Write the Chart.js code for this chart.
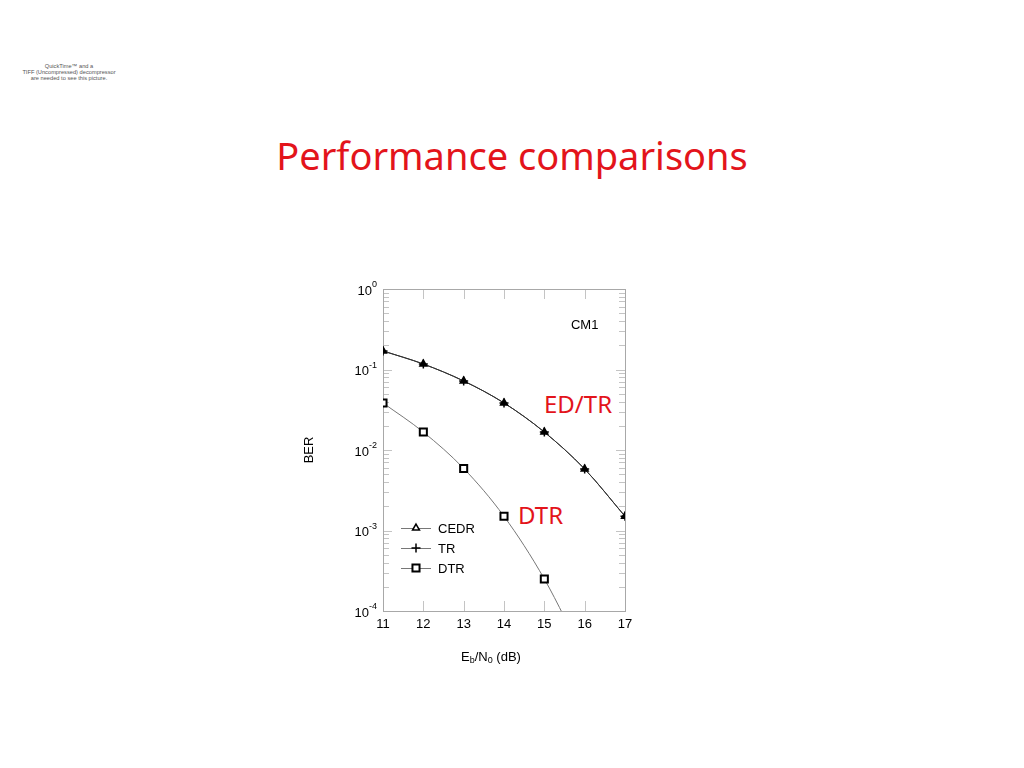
<!DOCTYPE html>
<html>
<head>
<meta charset="utf-8">
<script src="https://cdn.jsdelivr.net/npm/chart.js@4.4.1/dist/chart.umd.min.js"></script>
<style>
  html, body { margin: 0; padding: 0; background: #fff; }
  body { width: 1024px; height: 768px; position: relative; overflow: hidden; }
  #chart { position: absolute; left: 0; top: 0; }
  .qt { position: absolute; left: 19px; top: 63px; width: 100px; text-align: center;
        font: 5.7px/6px "Liberation Sans", Arial, sans-serif; color: #555; }
  .title { position: absolute; left: 0; width: 1024px; top: 129px; text-align: center;
           font: 38px "Comic Sans MS", "Noto Sans", sans-serif; color: #e3141b; }
  .note { position: absolute; font: 24px "Comic Sans MS", "Noto Sans", sans-serif; color: #e3141b; }
</style>
</head>
<body>
<div class="qt">QuickTime™ and a<br>TIFF (Uncompressed) decompressor<br>are needed to see this picture.</div>
<div class="title">Performance comparisons</div>
<div class="note" style="left:544px; top:387px;">ED/TR</div>
<div class="note" style="left:518px; top:498px;">DTR</div>
<canvas id="chart" width="1024" height="768"></canvas>
<script>
// Eb/N0 (dB) and BER
const ebn0 = [11, 12, 13, 14, 15, 16, 17];
const cedrBer = [0.17, 0.117, 0.072, 0.0384, 0.0167, 0.0058, 0.0015];
const trBer = [0.17, 0.117, 0.072, 0.0384, 0.0167, 0.0058, 0.0015];
const dtrBer = [0.0384, 0.0167, 0.0059, 0.0015, 0.00025, 0.000026];

const xTicks = [11, 12, 13, 14, 15, 16, 17];
const yDecades = [-4, -3, -2, -1, 0];
const legendNames = ['CEDR', 'TR', 'DTR'];

const pts = (ys) => ys.map((y, i) => ({ x: ebn0[i], y: y }));

// frame, ticks and tick labels drawn from the scales
const axesPlugin = {
    id: 'axesFrame',
    beforeDatasetsDraw(chart) {
        const { ctx, chartArea: a, scales } = chart;
        const x = scales.x, y = scales.y;
        ctx.save();
        ctx.strokeStyle = '#c4c4c4';
        ctx.lineWidth = 1;
        ctx.beginPath();
        xTicks.slice(1, -1).forEach(t => {
            const px = Math.round(x.getPixelForValue(t)) + 0.5;
            ctx.moveTo(px, a.bottom); ctx.lineTo(px, a.bottom - 10);
            ctx.moveTo(px, a.top); ctx.lineTo(px, a.top + 10);
        });
        yDecades.forEach(d => {
            for (let k = 1; k <= 9; k++) {
                const v = k * Math.pow(10, d);
                if (v > 1 || v < 1e-4) continue;
                const py = Math.round(y.getPixelForValue(v)) + 0.5;
                const len = k === 1 ? 9 : 6;
                ctx.moveTo(a.left, py); ctx.lineTo(a.left + len, py);
                ctx.moveTo(a.right, py); ctx.lineTo(a.right - len, py);
            }
        });
        ctx.stroke();
        ctx.strokeStyle = '#a8a8a8';
        ctx.strokeRect(Math.round(a.left) + 0.5, Math.round(a.top) + 0.5,
                       Math.round(a.right - a.left), Math.round(a.bottom - a.top));
        ctx.restore();
    },
    afterDraw(chart) {
        const { ctx, chartArea: a, scales } = chart;
        const x = scales.x, y = scales.y;
        const base = '13px "Liberation Sans", Arial, sans-serif';
        const small = '9px "Liberation Sans", Arial, sans-serif';
        ctx.save();
        ctx.fillStyle = '#000';
        ctx.textBaseline = 'middle';
        // x tick labels
        ctx.textAlign = 'center';
        ctx.font = base;
        xTicks.forEach(t => ctx.fillText(String(t), x.getPixelForValue(t), a.bottom + 13));
        // y tick labels: 10 with superscript exponent
        yDecades.forEach(d => {
            const py = y.getPixelForValue(Math.pow(10, d));
            const exp = String(d);
            ctx.font = small;
            const ew = ctx.measureText(exp).width;
            const right = a.left - 6;
            ctx.textAlign = 'left';
            ctx.fillText(exp, right - ew, py - 4);
            ctx.font = base;
            ctx.textAlign = 'right';
            ctx.fillText('10', right - ew, py + 2);
        });
        // axis titles
        ctx.save();
        ctx.translate(a.left - 74, (a.top + a.bottom) / 2);
        ctx.rotate(-Math.PI / 2);
        ctx.textAlign = 'center';
        ctx.font = base;
        ctx.fillText('BER', 0, 0);
        ctx.restore();
        const parts = [['E', base, 0], ['b', small, 4], ['/N', base, 0], ['0', small, 4], [' (dB)', base, 0]];
        let total = 0;
        parts.forEach(p => { ctx.font = p[1]; total += ctx.measureText(p[0]).width; });
        let cx = (a.left + a.right) / 2 - 13 - total / 2;
        const ty = a.bottom + 46;
        ctx.textAlign = 'left';
        parts.forEach(p => {
            ctx.font = p[1];
            ctx.fillText(p[0], cx, ty + p[2]);
            cx += ctx.measureText(p[0]).width;
        });
        // CM1 label
        ctx.font = base;
        ctx.textAlign = 'center';
        ctx.fillText('CM1', x.getPixelForValue(16), y.getPixelForValue(0.35));
        // legend
        const ds = chart.data.datasets;
        const lx = a.left + 18;
        legendNames.forEach((name, i) => {
            const ly = a.top + 239 + i * 20;
            ctx.strokeStyle = '#777';
            ctx.lineWidth = 1;
            ctx.beginPath();
            ctx.moveTo(lx, ly + 0.5); ctx.lineTo(lx + 30, ly + 0.5);
            ctx.stroke();
            const d = ds[i];
            const opts = { pointStyle: d.pointStyle, radius: d.pointRadius, borderWidth: d.pointBorderWidth, rotation: 0 };
            ctx.fillStyle = '#fff';
            ctx.strokeStyle = '#000';
            ctx.lineWidth = d.pointBorderWidth;
            Chart.helpers.drawPoint(ctx, opts, lx + 15, ly);
            ctx.fillStyle = '#000';
            ctx.font = base;
            ctx.textAlign = 'left';
            ctx.fillText(name, lx + 37, ly + 1);
        });
        ctx.restore();
    }
};

new Chart(document.getElementById('chart').getContext('2d'), {
    type: 'line',
    data: {
        datasets: [
            {
                label: 'CEDR', data: pts(cedrBer),
                borderColor: '#333', borderWidth: 1,
                pointStyle: 'triangle', pointRadius: 4, pointBorderWidth: 1.5,
                pointBorderColor: '#000', pointBackgroundColor: '#000',
                cubicInterpolationMode: 'monotone', clip: 0
            },
            {
                label: 'TR', data: pts(trBer),
                borderColor: '#222', borderWidth: 1,
                pointStyle: 'cross', pointRadius: 4.5, pointBorderWidth: 1.5,
                pointBorderColor: '#000', pointBackgroundColor: '#000',
                cubicInterpolationMode: 'monotone', clip: 0
            },
            {
                label: 'DTR', data: pts(dtrBer),
                borderColor: '#777', borderWidth: 1,
                pointStyle: 'rect', pointRadius: 5, pointBorderWidth: 2,
                pointBorderColor: '#000', pointBackgroundColor: '#fff',
                cubicInterpolationMode: 'monotone', clip: 0
            }
        ]
    },
    options: {
        responsive: false,
        animation: false,
        events: [],
        layout: { padding: { left: 383, right: 399, top: 289, bottom: 157 } },
        plugins: { legend: { display: false }, tooltip: { enabled: false } },
        scales: {
            x: { type: 'linear', min: 11, max: 17, display: false },
            y: { type: 'logarithmic', min: 0.0001, max: 1, display: false }
        }
    },
    plugins: [axesPlugin]
});
</script>
</body>
</html>
